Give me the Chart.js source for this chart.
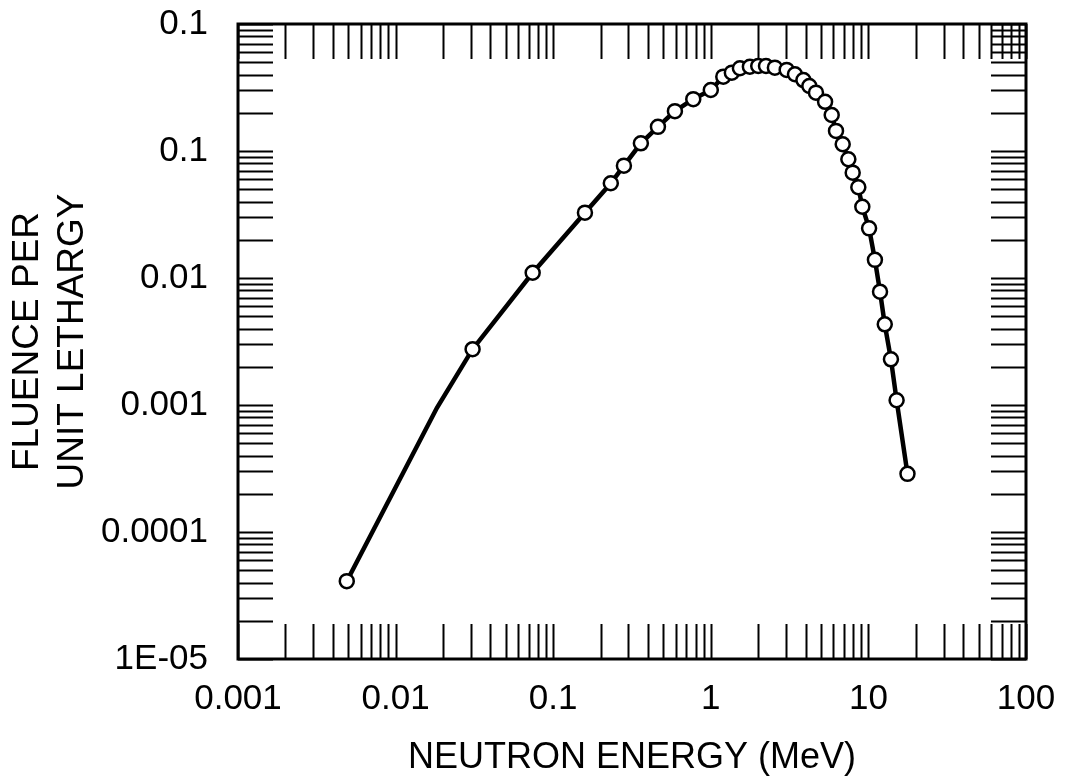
<!DOCTYPE html>
<html>
<head>
<meta charset="utf-8">
<script src="https://cdn.jsdelivr.net/npm/chart.js@4/dist/chart.umd.min.js"></script>
<style>
  html, body { margin: 0; padding: 0; background: #fff; }
  canvas { display: block; }
</style>
</head>
<body>
<canvas id="fluenceChart" width="1066" height="777"></canvas>
<script>
// neutron energy (MeV) and fluence per unit lethargy
const energy = [0.0049, 0.0183, 0.0308, 0.0741, 0.159, 0.232, 0.281, 0.360, 0.462, 0.592,
    0.774, 1.0, 1.20, 1.36, 1.53, 1.77, 2.0, 2.24, 2.55, 3.03,
    3.42, 3.87, 4.22, 4.65, 5.31, 5.85, 6.23, 6.87, 7.46, 7.95,
    8.63, 9.15, 10.1, 11.0, 11.85, 12.7, 13.9, 15.1, 17.7];
const fluence = [4.1e-5, 9.5e-4, 2.75e-3, 0.011, 0.0327, 0.0557, 0.0767, 0.115, 0.155, 0.206,
    0.256, 0.302, 0.385, 0.414, 0.448, 0.461, 0.467, 0.467, 0.453, 0.435,
    0.402, 0.362, 0.325, 0.288, 0.244, 0.192, 0.144, 0.113, 0.0861, 0.0675,
    0.0518, 0.0364, 0.0246, 0.0139, 0.0078, 0.00432, 0.00229, 0.00109, 0.000287];
// vertices of the curve that carry no circle marker
const unmarked = [1];

// decades and their labels (the top y label reads 0.1 in the original)
const xDecades = [0.001, 0.01, 0.1, 1, 10, 100];
const xLabels = ['0.001', '0.01', '0.1', '1', '10', '100'];
const yDecades = [1e-5, 1e-4, 1e-3, 1e-2, 1e-1, 1];
const yLabels = ['1E-05', '0.0001', '0.001', '0.01', '0.1', '0.1'];

const FONT = "'Liberation Sans', Arial, Helvetica, sans-serif";
const TICK_LEN = 35;

function minorTicks(decades) {
    const out = [];
    decades.forEach((d, i) => {
        if (i === decades.length - 1) { out.push(d); return; }
        for (let m = 1; m <= 9; m++) out.push(+(d * m).toPrecision(6));
    });
    return out.map(v => ({ value: v }));
}

function decadeLabel(decades, labels) {
    return function(value) {
        const i = decades.findIndex(d => Math.abs(Math.log10(d) - Math.log10(value)) < 1e-6);
        return i >= 0 ? labels[i] : '';
    };
}

// keep the plot box where it sits in the original
function fixBox(size, isX) {
    return function(scale) {
        if (isX) scale.height = size; else scale.width = size;
        scale.paddingTop = 0;
        scale.paddingBottom = 0;
        scale.paddingLeft = 0;
        scale.paddingRight = 0;
    };
}

// inward ticks on all four sides plus the box frame
const frameTicks = {
    id: 'frameTicks',
    beforeDatasetsDraw(chart) {
        const { ctx, chartArea: a, scales: { x, y } } = chart;
        ctx.save();
        ctx.strokeStyle = '#000';
        ctx.lineWidth = 2;
        ctx.beginPath();
        x.ticks.forEach(t => {
            const px = Math.round(x.getPixelForValue(t.value)) + 0.5;
            ctx.moveTo(px, a.bottom);
            ctx.lineTo(px, a.bottom - TICK_LEN);
            ctx.moveTo(px, a.top);
            ctx.lineTo(px, a.top + TICK_LEN);
        });
        y.ticks.forEach(t => {
            const py = Math.round(y.getPixelForValue(t.value)) + 0.5;
            ctx.moveTo(a.left, py);
            ctx.lineTo(a.left + TICK_LEN, py);
            ctx.moveTo(a.right, py);
            ctx.lineTo(a.right - TICK_LEN, py);
        });
        ctx.stroke();
        ctx.lineWidth = 3;
        ctx.strokeRect(a.left, a.top, a.right - a.left, a.bottom - a.top);
        ctx.restore();
    }
};

const points = energy.map((e, i) => ({ x: e, y: fluence[i] }));

const config = {
    type: 'line',
    data: {
        datasets: [{
            data: points,
            borderColor: '#000',
            borderWidth: 4.5,
            backgroundColor: '#fff',
            pointBackgroundColor: '#fff',
            pointBorderColor: '#000',
            pointBorderWidth: 2.5,
            pointRadius: energy.map((e, i) => unmarked.includes(i) ? 0 : 7),
            tension: 0,
            fill: false
        }]
    },
    options: {
        responsive: false,
        animation: false,
        devicePixelRatio: 1,
        layout: { padding: { top: 24, right: 40, left: 0, bottom: 0 } },
        scales: {
            x: {
                type: 'logarithmic',
                min: 0.001,
                max: 100,
                afterBuildTicks: function(scale) { scale.ticks = minorTicks(xDecades); },
                afterFit: fixBox(118, true),
                grid: { display: false, drawTicks: false },
                border: { display: false },
                ticks: {
                    autoSkip: false,
                    maxRotation: 0,
                    padding: 19,
                    color: '#000',
                    font: { family: FONT, size: 35 },
                    callback: decadeLabel(xDecades, xLabels)
                },
                title: {
                    display: true,
                    text: 'NEUTRON ENERGY (MeV)',
                    color: '#000',
                    font: { family: FONT, size: 36 },
                    padding: { top: 0, bottom: -3 }
                }
            },
            y: {
                type: 'logarithmic',
                min: 1e-5,
                max: 1,
                afterBuildTicks: function(scale) { scale.ticks = minorTicks(yDecades); },
                afterFit: fixBox(238, false),
                grid: { display: false, drawTicks: false },
                border: { display: false },
                ticks: {
                    autoSkip: false,
                    padding: 30,
                    color: '#000',
                    font: { family: FONT, size: 35 },
                    callback: decadeLabel(yDecades, yLabels)
                },
                title: {
                    display: true,
                    text: ['FLUENCE PER', 'UNIT LETHARGY'],
                    color: '#000',
                    font: { family: FONT, size: 37, lineHeight: 1.2 },
                    padding: { top: 6, bottom: 0 }
                }
            }
        },
        plugins: {
            legend: { display: false },
            tooltip: { enabled: false }
        }
    },
    plugins: [frameTicks]
};

new Chart(document.getElementById('fluenceChart').getContext('2d'), config);
</script>
</body>
</html>
